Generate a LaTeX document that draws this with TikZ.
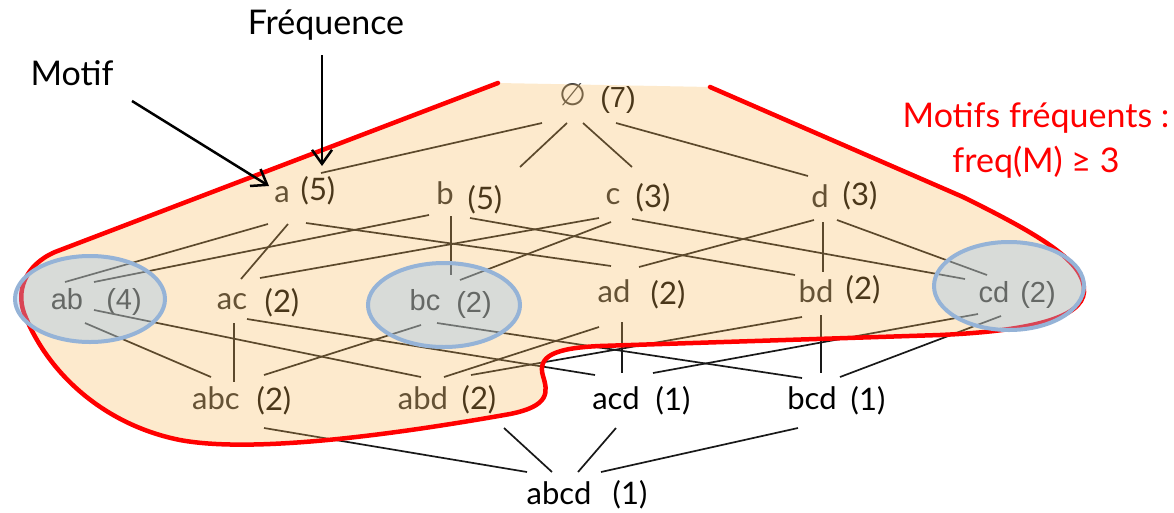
\documentclass[tikz,border=0pt]{standalone}
\usepackage{fontspec}
\setmainfont{Lato}
\newfontfamily\arialf{Liberation Sans}
\newfontfamily\djvf{DejaVu Sans}
\usetikzlibrary{calc,arrows.meta}
\definecolor{regfill}{RGB}{248,185,88}
\definecolor{hlfill}{RGB}{150,192,236}
\definecolor{hlborder}{RGB}{149,179,215}
\definecolor{redline}{RGB}{255,0,0}
\newcommand\lk[4]{\draw[lk] ($(#1)+(#2)$) -- ($(#3)+(#4)$);}
\newcommand\regionpath{(498,83) -- (55,252) .. controls (25,265) and (14,292) .. (26,318) .. controls (50,375) and (105,425) .. (180,440) .. controls (260,455) and (420,430) .. (510,414) .. controls (550,406) and (548,392) .. (543,376) .. controls (537,356) and (555,348) .. (600,346) -- (940,335) .. controls (1030,331) and (1082,318) .. (1084,292) .. controls (1086,262) and (1040,235) .. (963,197) -- (710,87)}
\begin{document}
\begin{tikzpicture}[x=1pt,y=-1pt,
  lk/.style={draw=black!90,line width=1.7pt},
  lt/.style={inner sep=0pt,text height=22pt,text depth=7pt,font=\fontsize{31}{36}\selectfont,text=black!85},
  nm/.style={lt,text=black},
  la/.style={lt,font=\arialf\fontsize{29}{34}\selectfont,text=black},
  ann/.style={font=\fontsize{34}{40}\selectfont,text=black,inner sep=0pt},
  arr/.style={draw=black,line width=2.5pt,-{Straight Barb[length=14pt,width=20pt]}},
  hl/.style={fill=hlfill,fill opacity=0.36,draw=hlborder,draw opacity=1,line width=4pt}]
\useasboundingbox (0,0) rectangle (1174,512);
% lattice labels
\node[lt,font=\djvf\fontsize{31}{36}\selectfont,text=black!75] (e) at (573,98) {∅};
\node[la] (ne) at (618,100) {(7)};
\node[lt] (a) at (282,195) {a}; \node[nm] (na) at (318,193) {(5)};
\node[lt] (b) at (445,197) {b}; \node[nm] (nb) at (485,202) {(5)};
\node[lt] (c) at (613,197) {c}; \node[nm] (nc) at (653,200) {(3)};
\node[lt] (d) at (820,200) {d}; \node[nm] (nd) at (860,198) {(3)};
\node[la] (ab) at (67,302) {ab}; \node[la] (nab) at (124,302) {(4)};
\node[lt] (ac) at (232,302) {ac}; \node[nm] (nac) at (282,305) {(2)};
\node[la] (bc) at (425,303) {bc}; \node[la] (nbc) at (474,305) {(2)};
\node[lt] (ad) at (614,295) {ad}; \node[nm] (nad) at (668,297) {(2)};
\node[lt] (bd) at (816,295) {bd}; \node[nm] (nbd) at (863,292) {(2)};
\node[la] (cd) at (994,295) {cd}; \node[la] (ncd) at (1038,295) {(2)};
\node[lt] (abc) at (216,402) {abc}; \node[nm] (nabc) at (274,403) {(2)};
\node[lt] (abd) at (423,402) {abd}; \node[nm] (nabd) at (479,402) {(2)};
\node[lt,text=black] (acd) at (616,402) {acd}; \node[nm] (nacd) at (673,403) {(1)};
\node[lt,text=black] (bcd) at (812,402) {bcd}; \node[nm] (nbcd) at (868,403) {(1)};
\node[lt,text=black] (abcd) at (559,497) {abcd}; \node[nm] (nabcd) at (630,497) {(1)};
% lattice edges
\lk{e}{-31,25}{a}{39,-22}
\lk{e}{-6,25}{b}{75,-30}
\lk{e}{10,25}{c}{19,-30}
\lk{e}{43,25}{d}{-12,-24}
\lk{a}{-14,29}{ab}{-2,-20}
\lk{a}{6,29}{ac}{9,-23}
\lk{a}{24,28}{ad}{-3,-29}
\lk{b}{-16,18}{ab}{27,-20}
\lk{b}{6,19}{bc}{26,-28}
\lk{b}{25,21}{bd}{-21,-20}
\lk{c}{-14,21}{ac}{28,-24}
\lk{c}{-2,25}{bc}{35,-23}
\lk{c}{19,22}{cd}{-29,-16}
\lk{d}{-6,20}{ad}{25,-28}
\lk{d}{3,22}{bd}{7,-23}
\lk{d}{17,20}{cd}{-7,-20}
\lk{ab}{18,21}{abc}{-5,-25}
\lk{ab}{27,8}{abd}{-2,-25}
\lk{ac}{2,21}{abc}{18,-20}
\lk{ac}{15,17}{acd}{-21,-27}
\lk{bc}{-4,22}{abc}{48,-27}
\lk{bc}{12,20}{bcd}{-10,-24}
\lk{ad}{-15,32}{abd}{21,-25}
\lk{ad}{8,27}{acd}{6,-29}
\lk{bd}{-14,22}{abd}{48,-27}
\lk{bd}{5,20}{bcd}{9,-29}
\lk{cd}{-16,19}{acd}{37,-29}
\lk{cd}{7,21}{bcd}{28,-25}
\lk{abc}{48,26}{abcd}{-32,-25}
\lk{abd}{81,26}{abcd}{-7,-25}
\lk{acd}{0,26}{abcd}{19,-25}
\lk{bcd}{-14,26}{abcd}{42,-25}
% frequent region
\fill[regfill,fill opacity=0.3] \regionpath -- cycle;
\draw[redline,line width=4.5pt,line cap=round] \regionpath;
% highlighted ellipses
\draw[hl] (90,299) ellipse [x radius=75pt,y radius=43pt];
\draw[hl] (444,305) ellipse [x radius=76pt,y radius=42pt];
\draw[hl] (1009,286) ellipse [x radius=75pt,y radius=44pt];
% annotations
\node[ann] (motif) at (72,73) {Motif};
\node[ann] (freqlbl) at (326,25) {Fréquence};
\draw[arr] ($(motif)+(60,28)$) -- ($(a)+(-13,-9)$);
\draw[arr] ($(freqlbl)+(-4,30)$) -- ($(a)+(40,-29)$);
\node[align=center,text=redline,font=\fontsize{34}{45}\selectfont,inner sep=0pt] (mf) at (1036,140) {Motifs fréquents :\\freq(M) ≥ 3};
\end{tikzpicture}
\end{document}
